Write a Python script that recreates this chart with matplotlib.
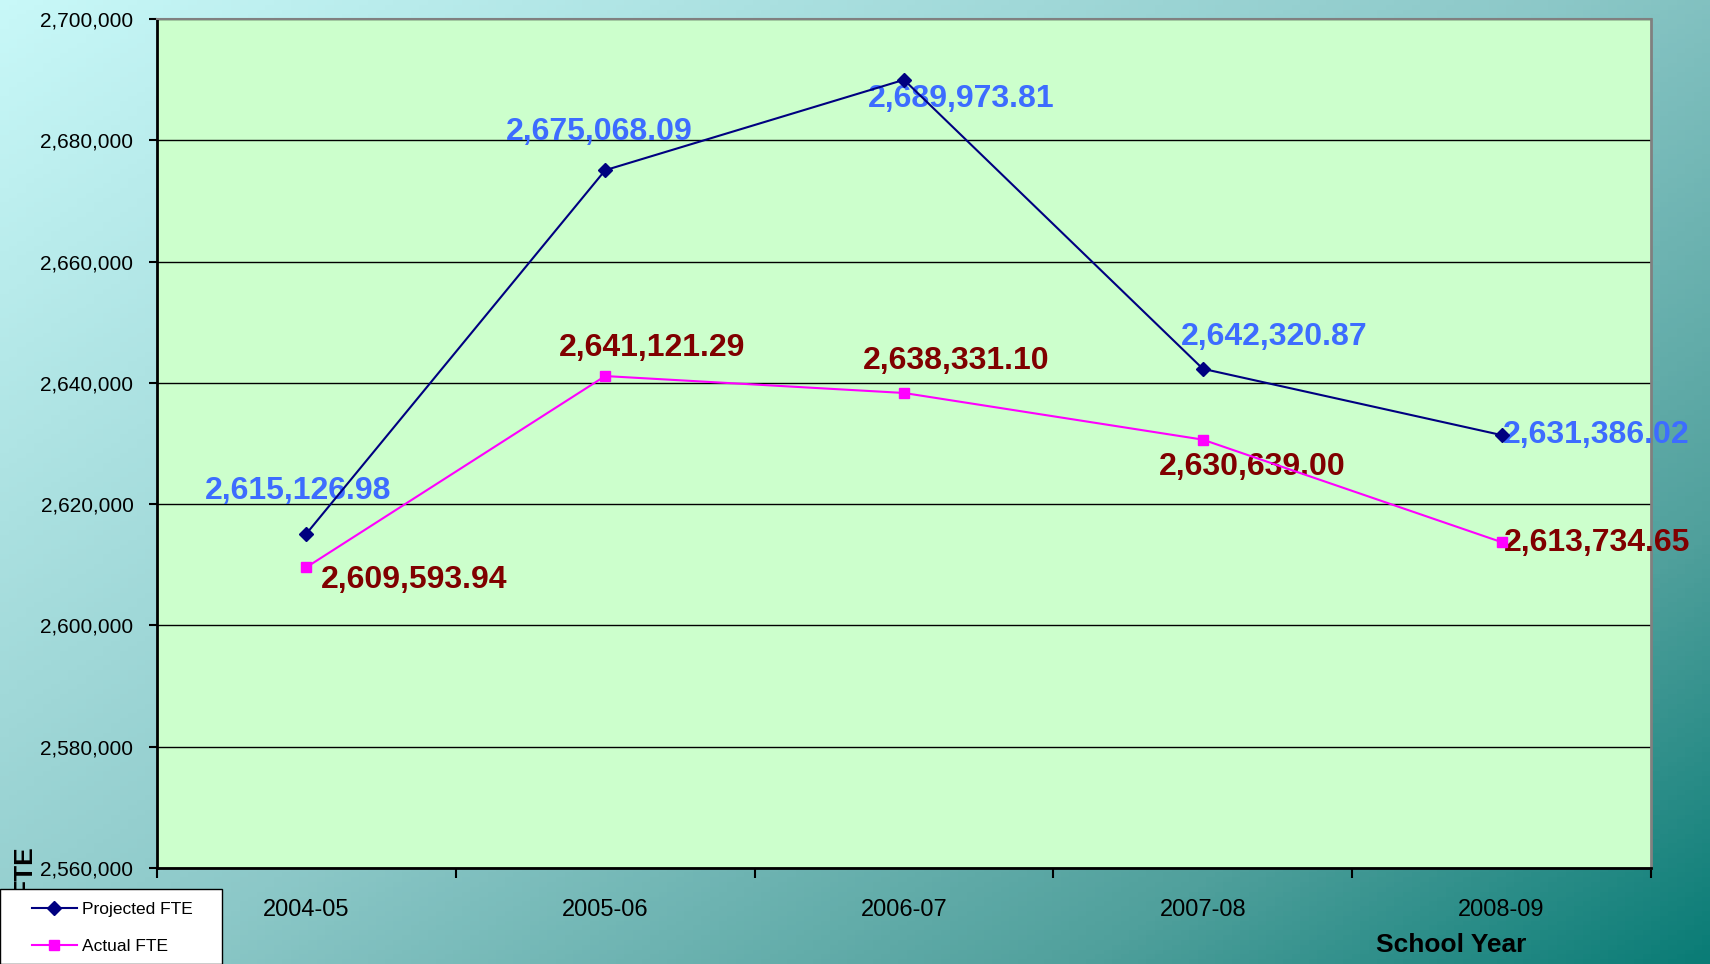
import numpy as np
import matplotlib.pyplot as plt
from matplotlib.colors import LinearSegmentedColormap
from matplotlib.ticker import FuncFormatter, FixedLocator
from matplotlib.patches import Rectangle

years = ["2004-05", "2005-06", "2006-07", "2007-08", "2008-09"]
projected = [2615126.98, 2675068.09, 2689973.81, 2642320.87, 2631386.02]
actual = [2609593.94, 2641121.29, 2638331.10, 2630639.00, 2613734.65]

# label offsets in pixels (dx, dy) from each point, hand-placed like the original
proj_offsets = [(-8, 43), (-6, 38), (57, -19), (71, 32), (95, 0)]
act_offsets = [(108, -13), (47, 28), (52, 32), (49, -27), (95, -1)]

fig = plt.figure(figsize=(17.1, 9.64), dpi=100)

# diagonal gradient background
bg = fig.add_axes([0, 0, 1, 1], zorder=-10)
yy, xx = np.mgrid[0:1:200j, 0:1:200j]
t = (xx * 0.55 + yy * 0.45)
cmap = LinearSegmentedColormap.from_list(
    "bg", [(0, "#c8f8f8"), (0.5, "#8cc8c8"), (0.8, "#50a09c"), (1, "#0a7c76")], N=256)
bg.imshow(t, cmap=cmap, aspect="auto", extent=[0, 1, 0, 1], origin="upper")
bg.axis("off")

ax = fig.add_axes([157 / 1710, 1 - 868 / 964, (1651 - 157) / 1710, (868 - 19) / 964])
ax.set_facecolor("#ccffcc")

x = np.arange(len(years))
ax.plot(x, projected, color="#000080", linewidth=1.5, marker="D", markersize=7,
        label="Projected FTE", zorder=4)
ax.plot(x, actual, color="#ff00ff", linewidth=1.5, marker="s", markersize=7,
        label="Actual FTE", zorder=4)

for xi, v, (dx, dy) in zip(x, projected, proj_offsets):
    ax.annotate(f"{v:,.2f}", (xi, v), xytext=(dx, dy), textcoords="offset pixels",
                ha="center", va="center", fontsize=23, fontweight="bold",
                color="#3d6cff", family="Liberation Sans", zorder=3)
for xi, v, (dx, dy) in zip(x, actual, act_offsets):
    ax.annotate(f"{v:,.2f}", (xi, v), xytext=(dx, dy), textcoords="offset pixels",
                ha="center", va="center", fontsize=23, fontweight="bold",
                color="#800000", family="Liberation Sans", zorder=3)

ax.set_xlim(-0.5, len(years) - 0.5)
ax.set_ylim(2560000, 2700000)
ax.set_yticks(np.arange(2560000, 2700001, 20000))
ax.yaxis.set_major_formatter(FuncFormatter(lambda v, p: f"{v:,.0f}"))
ax.grid(axis="y", color="black", linewidth=1)
ax.set_axisbelow(True)

ax.set_xticks(x)
ax.set_xticklabels(years, fontsize=17, family="Liberation Sans")
ax.tick_params(axis="x", which="major", length=0, pad=22)
ax.xaxis.set_minor_locator(FixedLocator(np.arange(-0.5, len(years), 1.0)))
ax.tick_params(axis="x", which="minor", length=7, width=1.5, direction="out")
ax.tick_params(axis="y", labelsize=15, length=6, width=1.5, direction="out", pad=11)
for lab in ax.get_yticklabels():
    lab.set_family("Liberation Sans")

for s in ["left", "bottom"]:
    ax.spines[s].set_color("black")
    ax.spines[s].set_linewidth(2)
ax.spines["top"].set_color("#808080")
ax.spines["top"].set_linewidth(1.5)
ax.spines["right"].set_color("#808080")
ax.spines["right"].set_linewidth(2)

fig.text(1451 / 1710, 1 - 945 / 964, "School Year", ha="center", va="center",
         fontsize=19, fontweight="bold", family="Liberation Sans")
fig.text(24 / 1710, 1 - 870 / 964, "FTE", ha="center", va="center", rotation=90,
         fontsize=19, fontweight="bold", family="Liberation Sans")

# white legend box sitting in the bottom-left corner
box = Rectangle((0, 0), 222 / 1710, 75 / 964, transform=fig.transFigure,
                facecolor="white", edgecolor="black", linewidth=1, zorder=5)
fig.patches.append(box)

leg = fig.legend(loc="lower left", bbox_to_anchor=(22 / 1710, 0), frameon=False,
                 handlelength=2.6, handletextpad=0.3,
                 labelspacing=1.3, borderpad=0.55, borderaxespad=0,
                 prop={"family": "Liberation Sans", "size": 12.5})
leg.set_zorder(6)

fig.savefig("out.png", dpi=100)
